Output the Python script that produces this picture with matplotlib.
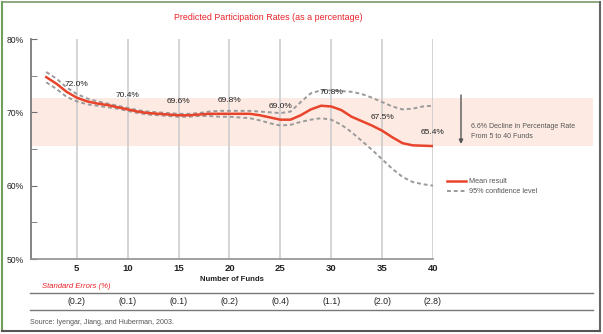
import matplotlib
matplotlib.use("Agg")
import matplotlib.pyplot as plt
from matplotlib.lines import Line2D

plt.rcParams['font.family'] = ['Liberation Sans', 'DejaVu Sans']

# ---------------- data ----------------
funds = list(range(2, 41))
mean_rate = [74.8, 73.9, 72.8, 72.0, 71.5, 71.2, 71.0, 70.7, 70.4, 70.1,
             69.9, 69.8, 69.7, 69.6, 69.6, 69.7, 69.8, 69.8, 69.8, 69.8,
             69.8, 69.6, 69.3, 69.0, 69.0, 69.6, 70.4, 70.9, 70.8, 70.3,
             69.4, 68.8, 68.2, 67.5, 66.6, 65.8, 65.5, 65.45, 65.4]
upper_ci = [75.5, 74.6, 73.4, 72.5, 71.9, 71.5, 71.2, 70.9, 70.6, 70.3,
            70.1, 70.0, 69.9, 69.8, 69.8, 69.9, 70.1, 70.2, 70.2, 70.2,
            70.2, 70.1, 70.0, 69.9, 70.1, 71.4, 72.6, 73.0, 73.0, 72.9,
            72.8, 72.5, 72.0, 71.4, 70.8, 70.4, 70.5, 70.8, 70.9]
lower_ci = [74.1, 73.2, 72.1, 71.5, 71.1, 70.9, 70.7, 70.5, 70.2, 69.9,
            69.7, 69.6, 69.5, 69.4, 69.4, 69.5, 69.5, 69.4, 69.4, 69.3,
            69.2, 68.9, 68.5, 68.2, 68.3, 68.7, 69.0, 69.2, 69.0, 68.3,
            67.3, 66.1, 64.9, 63.6, 62.3, 61.2, 60.5, 60.2, 60.0]
label_x = [5, 10, 15, 20, 25, 30, 35, 40]
label_vals = [72.0, 70.4, 69.6, 69.8, 69.0, 70.8, 67.5, 65.4]
std_errors = ['(0.2)', '(0.1)', '(0.1)', '(0.2)', '(0.4)', '(1.1)', '(2.0)', '(2.8)']
band_top, band_bottom = 72.0, 65.4
yticks_major = [50, 60, 70, 80]
yticks_minor = [55, 65, 75]

W, H = 603, 334
def fx(x):
    return x / W
def fy(y):
    return 1 - y / H

fig = plt.figure(figsize=(W / 100, H / 100), dpi=100)
fig.patch.set_facecolor('white')

ax = fig.add_axes([fx(31), fy(259), fx(433) - fx(31), fy(39) - fy(259)])
ax.set_xlim(0.5, 40)
ax.set_ylim(50, 80)

RED = '#e8442c'
GRAY = '#9a9a9a'

# band
ax.axhspan(band_bottom, band_top, xmin=0, xmax=(593 - 31) / (433 - 31),
           facecolor='#fdebe3', edgecolor='none', clip_on=False, zorder=0)

# grid
for x in label_x:
    ax.axvline(x, color='#c9c9c9', lw=1.1, zorder=1)

l_ci, = ax.plot(funds, upper_ci, color=GRAY, lw=1.4, ls=(0, (2, 1.5)), zorder=2,
                label='95% confidence level')
ax.plot(funds, lower_ci, color=GRAY, lw=1.4, ls=(0, (2, 1.5)), zorder=2)
l_mean, = ax.plot(funds, mean_rate, color=RED, lw=1.8, zorder=3, label='Mean result')

for x, v in zip(label_x, label_vals):
    ax.annotate(f'{v:.1f}%', (x, v), xytext=(0, 10), textcoords='offset pixels',
                ha='center', va='bottom', fontsize=6.0, color='#222222', zorder=4)

for s in ['top', 'right']:
    ax.spines[s].set_visible(False)
ax.spines['left'].set_color('#707070')
ax.spines['bottom'].set_color('#909090')
ax.spines['left'].set_linewidth(1.2)
ax.spines['bottom'].set_linewidth(1.2)

ax.set_yticks(yticks_major)
ax.set_yticklabels([f'{v}%' for v in yticks_major])
ax.set_yticks(yticks_minor, minor=True)
ax.tick_params(axis='y', which='both', direction='in', length=4, color='#707070',
               labelsize=6.2, labelcolor='#222222', pad=5)
ax.set_xticks(label_x)
ax.set_xticklabels([str(x) for x in label_x])
ax.tick_params(axis='x', length=0, labelsize=6.8, labelcolor='#222222', pad=3.5)
for t in ax.get_xticklabels():
    t.set_fontweight('bold')
ax.set_facecolor('none')

ax.set_xlabel('Number of Funds', fontsize=5.6, fontweight='bold', color='#222222',
              labelpad=2.5)

# title
fig.text(fx(268), fy(18), 'Predicted Participation Rates (as a percentage)',
         ha='center', va='center', fontsize=6.4, color='#e8222a')

# arrow annotation
ax.annotate('', xy=(fx(461), fy(144)), xytext=(fx(461), fy(95)),
            xycoords='figure fraction', textcoords='figure fraction',
            arrowprops=dict(arrowstyle='-|>', color='#555555', lw=1.0,
                            mutation_scale=6, shrinkA=0, shrinkB=0))
fig.text(fx(471), fy(131), '6.6% Decline in Percentage Rate\nFrom 5 to 40 Funds',
         ha='left', va='center', fontsize=5.0, color='#555555', linespacing=1.6)

# legend
ax.legend(handles=[l_mean, l_ci], loc='upper left',
          bbox_to_anchor=(fx(447), fy(178)), bbox_transform=fig.transFigure,
          frameon=False, fontsize=5.2, handlelength=2.6, handletextpad=0.45,
          labelspacing=0.45, borderaxespad=0, borderpad=0, labelcolor='#555555')

# standard errors table
fig.text(fx(42), fy(286), 'Standard Errors (%)', ha='left', va='center',
         fontsize=5.6, color='#e8222a', style='italic')
fig.add_artist(Line2D([fx(30), fx(593)], [fy(293), fy(293)], color='#777777', lw=1.0))
fig.add_artist(Line2D([fx(30), fx(593)], [fy(310), fy(310)], color='#777777', lw=1.0))
for x, se in zip(label_x, std_errors):
    xf = fig.transFigure.inverted().transform(ax.transData.transform((x, 50)))[0]
    fig.text(xf, fy(302), se, ha='center', va='center', fontsize=6.3, color='#222222')

fig.text(fx(30), fy(322), 'Source: Iyengar, Jiang, and Huberman, 2003.',
         ha='left', va='center', fontsize=5.1, color='#555555')

# border
fig.add_artist(Line2D([fx(1.5), fx(1.5)], [fy(2), fy(331)], color='#6fa05a', lw=1.5))
fig.add_artist(Line2D([fx(1.5), fx(600)], [fy(2), fy(2)], color='#7a9a6a', lw=1.2))
fig.add_artist(Line2D([fx(600), fx(600)], [fy(2), fy(331)], color='#666666', lw=1.5))
fig.add_artist(Line2D([fx(1.5), fx(600)], [fy(331), fy(331)], color='#555555', lw=1.5))

fig.savefig('out.png', dpi=100, facecolor='white')
